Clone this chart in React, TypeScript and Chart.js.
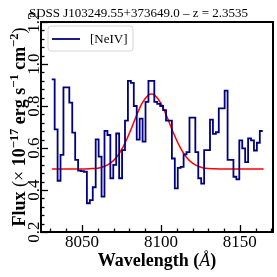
import React, { useEffect, useRef } from "react";
import { Chart, registerables } from "chart.js";

Chart.register(...registerables);

const TITLE = "SDSS J103249.55+373649.0 – z = 2.3535";
const LEGEND_LABEL = "[NeIV]";

// spectrum grid (observed wavelength, Å) and binned flux
const WAVE_START = 8030.8;
const WAVE_STEP = 1.857;
const FLUX = [
  0.927, 0.689, 0.444, 0.567, 0.889, 0.889, 0.816, 0.673, 0.543, 0.492,
  0.49, 0.487, 0.337, 0.352, 0.413, 0.641, 0.559, 0.368, 0.682, 0.662,
  0.456, 0.52, 0.669, 0.456, 0.59, 0.73, 0.92, 0.91, 0.8, 0.64,
  0.74, 0.63, 0.82, 0.92, 0.92, 0.82, 0.81, 0.8, 0.78, 0.73,
  0.73, 0.55, 0.408, 0.505, 0.51, 0.57, 0.58, 0.745, 0.745, 0.58,
  0.456, 0.43, 0.59, 0.59, 0.735, 0.667, 0.675, 0.789, 0.789, 0.873,
  0.543, 0.543, 0.463, 0.451, 0.636, 0.598, 0.533, 0.646, 0.636, 0.588,
  0.625, 0.681,
];

// gaussian fit curve
const FIT_WAVE = [
  8031, 8040, 8050, 8056, 8060, 8064, 8068, 8072, 8076, 8080, 8084, 8088,
  8092, 8094, 8096, 8100, 8104, 8108, 8112, 8116, 8120, 8124, 8128, 8134,
  8140, 8150, 8165,
];
const FIT_FLUX = [
  0.5, 0.5, 0.5, 0.502, 0.504, 0.512, 0.528, 0.557, 0.605, 0.67, 0.745, 0.812,
  0.852, 0.857, 0.852, 0.812, 0.745, 0.67, 0.605, 0.557, 0.528, 0.512, 0.504,
  0.501, 0.5, 0.5, 0.5,
];

const X_TICKS = [8050, 8100, 8150];
const Y_TICKS = [0.2, 0.4, 0.6, 0.8, 1.0, 1.2];
const X_MIN = 8024;
const X_MAX = 8171;
const Y_MIN = 0.2;
const Y_MAX = 1.2;
const X_MINOR_STEP = 10;
const Y_MINOR_STEP = 0.04;

const SERIF = "'Liberation Serif', 'Times New Roman', serif";

type Seg = { t: string; f: string; dy?: number };

function drawRich(
  ctx: CanvasRenderingContext2D,
  segs: Seg[],
  x: number,
  y: number,
  rot: number
) {
  let total = 0;
  const widths = segs.map((s) => {
    ctx.font = s.f;
    const w = ctx.measureText(s.t).width;
    total += w;
    return w;
  });
  ctx.save();
  ctx.translate(x, y);
  ctx.rotate(rot);
  ctx.textAlign = "left";
  ctx.textBaseline = "alphabetic";
  let cx = -total / 2;
  segs.forEach((s, i) => {
    ctx.font = s.f;
    ctx.fillText(s.t, cx, s.dy || 0);
    cx += widths[i];
  });
  ctx.restore();
}

const decorPlugin = {
  id: "decor",
  afterDatasetsDraw(chart: any) {
    const { ctx, chartArea: a, scales } = chart;
    const xs = scales.x;
    const ys = scales.y;
    ctx.save();
    ctx.fillStyle = "#000";
    ctx.strokeStyle = "#000";

    // ticks (inward)
    ctx.lineWidth = 1.3;
    for (let v = 8030; v <= X_MAX; v += X_MINOR_STEP) {
      const px = Math.round(xs.getPixelForValue(v)) + 0.5;
      const major = X_TICKS.includes(v);
      ctx.beginPath();
      ctx.moveTo(px, a.bottom);
      ctx.lineTo(px, a.bottom - (major ? 7 : 3.5));
      ctx.stroke();
    }
    for (let i = 0; Y_MIN + i * Y_MINOR_STEP <= Y_MAX + 1e-9; i++) {
      const v = Y_MIN + i * Y_MINOR_STEP;
      const py = Math.round(ys.getPixelForValue(v)) + 0.5;
      const major = i % 5 === 0;
      ctx.beginPath();
      ctx.moveTo(a.left, py);
      ctx.lineTo(a.left + (major ? 7 : 3.5), py);
      ctx.stroke();
    }

    // frame
    ctx.lineWidth = 2;
    ctx.strokeRect(a.left, a.top, a.right - a.left, a.bottom - a.top);

    // x tick labels
    ctx.font = `17px ${SERIF}`;
    ctx.textAlign = "center";
    ctx.textBaseline = "alphabetic";
    X_TICKS.forEach((v) => {
      ctx.fillText(String(v), xs.getPixelForValue(v), 247);
    });
    // y tick labels (rotated)
    Y_TICKS.forEach((v) => {
      const py = ys.getPixelForValue(v);
      ctx.save();
      ctx.translate(38.5, py);
      ctx.rotate(-Math.PI / 2);
      ctx.fillText(v.toFixed(1), 0, 0);
      ctx.restore();
    });

    // axis titles
    const B = `bold 18px ${SERIF}`;
    const N = `18px ${SERIF}`;
    const S = `bold 12.5px ${SERIF}`;
    drawRich(
      ctx,
      [
        { t: "Wavelength (", f: B },
        { t: "Å", f: `italic 18px ${SERIF}` },
        { t: ")", f: B },
      ],
      (a.left + a.right) / 2,
      266,
      0
    );
    drawRich(
      ctx,
      [
        { t: "Flux", f: B },
        { t: " (", f: N },
        { t: "×", f: N },
        { t: " 10", f: B },
        { t: "−17", f: S, dy: -7 },
        { t: " erg s", f: B },
        { t: "−1", f: S, dy: -7 },
        { t: " cm", f: B },
        { t: "−2", f: S, dy: -7 },
        { t: ")", f: N },
      ],
      24.5,
      (a.top + a.bottom) / 2,
      -Math.PI / 2
    );

    // title
    ctx.font = `13px ${SERIF}`;
    ctx.textAlign = "center";
    ctx.fillText(TITLE, chart.width / 2, 16.5);

    // legend
    const lx = 48, ly = 26, lw = 85, lh = 25, r = 3;
    ctx.beginPath();
    ctx.moveTo(lx + r, ly);
    ctx.arcTo(lx + lw, ly, lx + lw, ly + lh, r);
    ctx.arcTo(lx + lw, ly + lh, lx, ly + lh, r);
    ctx.arcTo(lx, ly + lh, lx, ly, r);
    ctx.arcTo(lx, ly, lx + lw, ly, r);
    ctx.closePath();
    ctx.fillStyle = "rgba(255,255,255,0.8)";
    ctx.fill();
    ctx.strokeStyle = "#d6d6d6";
    ctx.lineWidth = 1;
    ctx.stroke();
    ctx.strokeStyle = "#000080";
    ctx.lineWidth = 1.8;
    ctx.beginPath();
    ctx.moveTo(52, 39);
    ctx.lineTo(80, 39);
    ctx.stroke();
    ctx.fillStyle = "#000";
    ctx.font = `13px ${SERIF}`;
    ctx.textAlign = "left";
    ctx.textBaseline = "middle";
    ctx.fillText(LEGEND_LABEL, 90, 39.5);

    ctx.restore();
  },
};

export default function App() {
  const ref = useRef<HTMLCanvasElement | null>(null);

  useEffect(() => {
    if (!ref.current) return;
    const spectrum = FLUX.map((f, i) => ({ x: WAVE_START + i * WAVE_STEP, y: f }));
    spectrum.push({ x: WAVE_START + FLUX.length * WAVE_STEP, y: FLUX[FLUX.length - 1] });
    const fit = FIT_WAVE.map((w, i) => ({ x: w, y: FIT_FLUX[i] }));

    const chart = new Chart(ref.current, {
      type: "line",
      data: {
        datasets: [
          {
            label: LEGEND_LABEL,
            data: spectrum,
            borderColor: "#000080",
            borderWidth: 1.8,
            pointRadius: 0,
            stepped: true,
            fill: false,
          },
          {
            label: "fit",
            data: fit,
            borderColor: "#ff0000",
            borderWidth: 1.5,
            pointRadius: 0,
            cubicInterpolationMode: "monotone",
            fill: false,
          },
        ],
      },
      options: {
        animation: false,
        responsive: false,
        devicePixelRatio: 1,
        parsing: false,
        layout: { padding: { left: 41, right: 4, top: 22, bottom: 45 } },
        scales: {
          x: { type: "linear", min: X_MIN, max: X_MAX, display: false },
          y: { type: "linear", min: Y_MIN, max: Y_MAX, display: false },
        },
        plugins: {
          legend: { display: false },
          title: { display: false },
          tooltip: { enabled: false },
        },
      },
      plugins: [decorPlugin],
    });
    return () => chart.destroy();
  }, []);

  return (
    <div style={{ position: "fixed", left: 0, top: 0, width: 277, height: 277, background: "#fff" }}>
      <canvas ref={ref} width={277} height={277} style={{ width: 277, height: 277 }} />
    </div>
  );
}
